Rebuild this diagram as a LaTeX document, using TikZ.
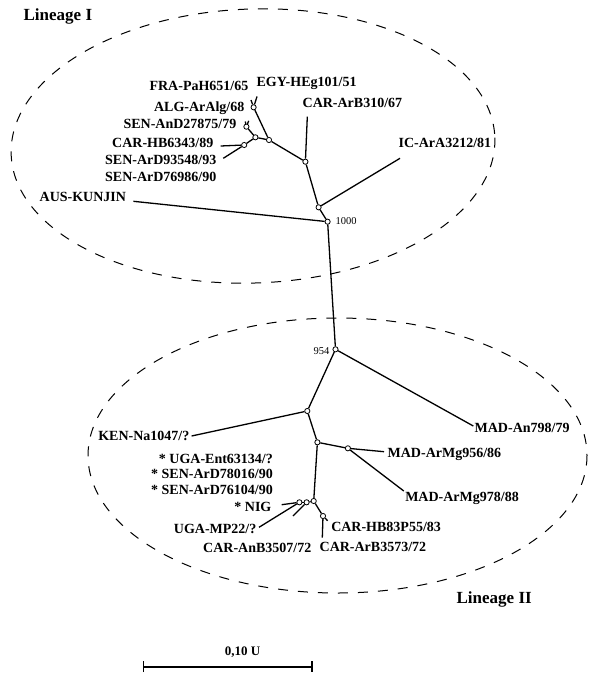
\documentclass[tikz,border=0pt]{standalone}
\usepackage{fontspec}
\setmainfont{Liberation Serif}
\usetikzlibrary{arrows.meta}

\begin{document}
\begin{tikzpicture}
[x=1pt,y=-1pt,line width=1.3pt,%
  fork/.style={shape=circle,draw,fill=white,inner sep=0pt,minimum size=5.2pt,line width=0.8pt},%
  strain/.style={inner sep=0pt,font=\fontsize{14}{16}\selectfont\bfseries},%
  boot/.style={inner sep=0pt,font=\fontsize{10.5}{12}\selectfont},%
  lineage/.style={inner sep=0pt,font=\fontsize{17}{20}\selectfont\bfseries},%
  cluster/.style={line width=1pt,dash pattern=on 10pt off 10pt}]
\useasboundingbox (0,0) rectangle (589,674);
%% lineage I
\draw[cluster] (253,146) ellipse [x radius=242,y radius=137,rotate=2];
\node[lineage,anchor=mid west] (linI) at (23,18.3) {Lineage I};
\node[fork] (k1000) at (327.6,221.7) {};
\node[fork] (kIC) at (318.6,207.3) {};
\node[fork] (kB310) at (305.4,161.7) {};
\node[fork] (kC) at (269,140) {};
\node[fork] (kD) at (255.4,137.3) {};
\node[fork] (kHB) at (244.2,145) {};
\node[fork] (kAnD) at (246.4,126.7) {};
\node[fork] (kAlg) at (253.6,107.3) {};
\coordinate (FRA) at (251,100);
\coordinate (EGY) at (257,96.5);
\coordinate (AnDa) at (245.3,121.5);
\coordinate (AnDb) at (248.7,120.8);
\coordinate (HB6343) at (220.7,146);
\coordinate (ArD93548) at (223.3,158.3);
\coordinate (ArB310) at (307.3,116.7);
\coordinate (ArA3212) at (400,158.3);
\coordinate (KUNJIN) at (133.4,201.3);
%%
\node[strain,anchor=mid east] (lFRA) at (249,88.3) {FRA-PaH651/65};
\node[strain,anchor=mid west] (lEGY) at (256,84.3) {EGY-HEg101/51};
\node[strain,anchor=mid east] (lALG) at (245,109) {ALG-ArAlg/68};
\node[strain,anchor=mid east] (lAnD) at (237,126.7) {SEN-AnD27875/79};
\node[strain,anchor=mid east] (lHB) at (214,145.7) {CAR-HB6343/89};
\node[strain,anchor=mid east] (lArD1) at (217,162.7) {SEN-ArD93548/93};
\node[strain,anchor=mid east] (lArD2) at (217,179.3) {SEN-ArD76986/90};
\node[strain,anchor=mid west] (lAUS) at (39,199.3) {AUS-KUNJIN};
\node[strain,anchor=mid west] (lB310) at (302,105) {CAR-ArB310/67};
\node[strain,anchor=mid west] (lIC) at (398,145) {IC-ArA3212/81};
\node[boot,anchor=mid west] (b1000) at (335,222.3) {1000};
%% lineage II
\draw[cluster] (337.5,455.5) ellipse [x radius=249.5,y radius=137.5];
\node[lineage,anchor=mid west] (linII) at (456,601) {Lineage II};
\node[fork] (k954) at (335.5,349.3) {};
\node[fork] (kKEN) at (307.3,411) {};
\node[fork] (kL) at (317.4,442.3) {};
\node[fork] (kMg) at (347.9,448.3) {};
\node[fork] (kN) at (313.7,501) {};
\node[fork] (kO) at (306.6,502.3) {};
\node[fork] (kNIG) at (299.4,502.3) {};
\node[fork] (kHB83) at (323,516) {};
\coordinate (An798) at (473.3,426);
\coordinate (Na1047) at (191.6,436);
\coordinate (ArMg956) at (384,451.7);
\coordinate (ArMg978) at (403.8,491);
\coordinate (NIG) at (281.7,504.7);
\coordinate (MP22) at (259,527.3);
\coordinate (AnB3507) at (293,516);
\coordinate (HB83P55) at (327.6,520.7);
\coordinate (ArB3573) at (322.3,537.7);
%%
\node[boot,anchor=mid east] (b954) at (330,352.7) {954};
\node[strain,anchor=mid west] (lAn798) at (474,430) {MAD-An798/79};
\node[strain,anchor=mid east] (lKEN) at (190,438.3) {KEN-Na1047/?};
\node[strain,anchor=mid west] (lMg956) at (387,455.3) {MAD-ArMg956/86};
\node[strain,anchor=mid west] (lMg978) at (404.6,499) {MAD-ArMg978/88};
\node[strain,anchor=mid east] (lEnt) at (273.5,460.7) {* UGA-Ent63134/?};
\node[strain,anchor=mid east] (lArD3) at (273.5,476) {* SEN-ArD78016/90};
\node[strain,anchor=mid east] (lArD4) at (273.5,492.3) {* SEN-ArD76104/90};
\node[strain,anchor=mid east] (lNIG) at (272,509.3) {* NIG};
\node[strain,anchor=mid east] (lMP22) at (257,530.7) {UGA-MP22/?};
\node[strain,anchor=mid west] (lHB83) at (330.6,529.3) {CAR-HB83P55/83};
\node[strain,anchor=mid west] (lB3573) at (319,549.3) {CAR-ArB3573/72};
\node[strain,anchor=mid east] (lB3507) at (312,550) {CAR-AnB3507/72};
%% branches
\path
\foreach \startNode/\endNode in {k1000/k954, k1000/KUNJIN, k1000/kIC, kIC/ArA3212,
  kIC/kB310, kB310/ArB310, kB310/kC, kC/kAlg, kAlg/FRA, kAlg/EGY, kC/kD,
  kD/kAnD, kAnD/AnDa, kAnD/AnDb, kD/kHB, kHB/HB6343, kHB/ArD93548,
  k954/An798, k954/kKEN, kKEN/Na1047, kKEN/kL, kL/kMg, kMg/ArMg956,
  kMg/ArMg978, kL/kN, kN/kO, kO/kNIG, kNIG/NIG, kNIG/MP22, kO/AnB3507,
  kN/kHB83, kHB83/HB83P55, kHB83/ArB3573}
{
  (\startNode) edge (\endNode)
};
%% scale bar
\coordinate (bar0) at (142.7,666.7);
\coordinate (bar1) at (312.7,666.7);
\draw[line width=1.7pt,{Bar[width=11pt,line width=1.4pt]}-{Bar[width=11pt,line width=1.4pt]}] (bar0) -- (bar1);
\node[strain,font=\fontsize{13}{15}\selectfont\bfseries] (lScale) at (242.5,651.7) {0,10 U};
\end{tikzpicture}
\end{document}
